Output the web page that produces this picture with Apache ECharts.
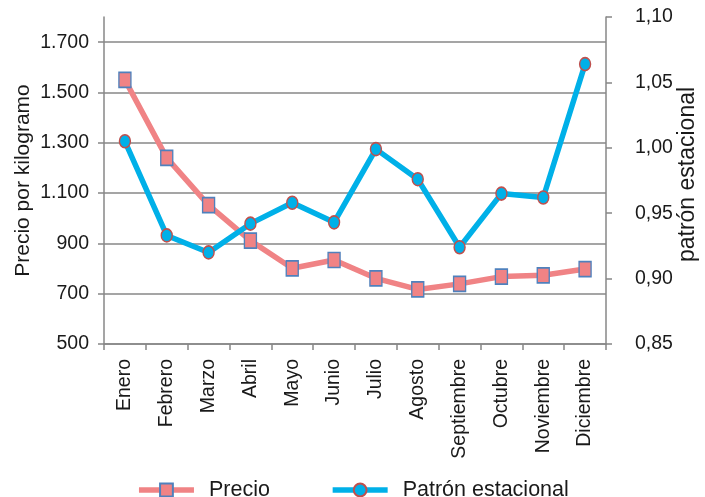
<!DOCTYPE html>
<html><head><meta charset="utf-8">
<script src="https://cdn.jsdelivr.net/npm/echarts@6/dist/echarts.min.js"></script>
<style>html,body{margin:0;padding:0;background:#fff}#c{width:705px;height:497px}</style>
</head><body><div id="c"></div>
<script>
const categories = ['Enero','Febrero','Marzo','Abril','Mayo','Junio','Julio','Agosto','Septiembre','Octubre','Noviembre','Diciembre'];
const precio = [1550, 1240, 1052, 911, 801, 834, 761, 717, 739, 768, 773, 798];
const patron = [1.005, 0.933, 0.920, 0.942, 0.958, 0.943, 0.999, 0.976, 0.924, 0.965, 0.962, 1.064];
const leftTicks = [500, 700, 900, 1100, 1300, 1500, 1700];
const rightTicks = [0.85, 0.90, 0.95, 1.00, 1.05, 1.10];

const FONT = '"Liberation Sans", Arial, sans-serif';
const TXT = '#1a1a1a';
const GRAY = '#878787';

function fmtLeft(v){
  return String(Math.round(v)).replace(/\B(?=(\d{3})+(?!\d))/g, '.');
}
function fmtRight(v){ return v.toFixed(2).replace('.', ','); }

const chart = echarts.init(document.getElementById('c'), null, {renderer:'canvas'});
chart.setOption({
  backgroundColor: '#fff',
  animation: false,
  textStyle: {fontFamily: FONT, color: TXT},
  grid: {left: 104, right: 99, top: 17, bottom: 153, containLabel: false, outerBoundsMode: 'none'},
  legend: {
    top: 474, left: 'center',
    itemWidth: 55, itemHeight: 16, itemGap: 60,
    lineStyle: {width: 5.5},
    textStyle: {fontFamily: FONT, fontSize: 21.5, color: TXT, padding: [0,0,0,10]},
    data: ['Precio', 'Patrón estacional']
  },
  xAxis: {
    type: 'category', data: categories, boundaryGap: true,
    axisLine: {lineStyle: {color: GRAY, width: 1.5}},
    axisTick: {show: true, length: 6, lineStyle: {color: GRAY, width: 1.5}},
    axisLabel: {rotate: 90, fontSize: 19.5, color: TXT, fontFamily: FONT, margin: 15, interval: 0}
  },
  yAxis: [{
    type: 'value', position: 'left', min: 500, max: 1800,
    name: 'Precio por kilogramo', nameLocation: 'middle', nameGap: 70, nameRotate: 90,
    nameMoveOverlap: false,
    nameTextStyle: {fontSize: 21, color: TXT, fontFamily: FONT},
    axisLine: {show: true, lineStyle: {color: GRAY, width: 1.5}},
    axisTick: {show: true, length: 6, customValues: leftTicks, lineStyle: {color: GRAY, width: 1.5}},
    axisLabel: {customValues: leftTicks, formatter: fmtLeft, fontSize: 19.5, color: TXT, fontFamily: FONT, margin: 15},
    splitLine: {show: true, lineStyle: {color: GRAY, width: 1.5}}
  }, {
    type: 'value', position: 'right', min: 0.85, max: 1.10,
    name: 'patrón estacional', nameLocation: 'middle', nameGap: 70, nameRotate: 90,
    nameMoveOverlap: false,
    nameTextStyle: {fontSize: 23, color: TXT, fontFamily: FONT, padding: [0,0,0,12]},
    axisLine: {show: true, lineStyle: {color: GRAY, width: 1.5}},
    axisTick: {show: true, length: 6, customValues: rightTicks, lineStyle: {color: GRAY, width: 1.5}},
    axisLabel: {customValues: rightTicks, formatter: fmtRight, fontSize: 19.5, color: TXT, fontFamily: FONT, margin: 29},
    splitLine: {show: false}
  }],
  series: [{
    name: 'Precio', type: 'line', yAxisIndex: 0, data: precio,
    symbol: 'rect', symbolSize: [12, 15],
    lineStyle: {color: '#F08385', width: 5.5},
    itemStyle: {color: '#F08385', borderColor: '#4F81BD', borderWidth: 1.5},
    emphasis: {disabled: true}
  }, {
    name: 'Patrón estacional', type: 'line', yAxisIndex: 1, data: patron,
    symbol: 'circle', symbolSize: [11, 13],
    lineStyle: {color: '#00B0E8', width: 5.5},
    itemStyle: {color: '#00B0E8', borderColor: '#C0504D', borderWidth: 1.5},
    emphasis: {disabled: true}
  }]
});
</script></body></html>
